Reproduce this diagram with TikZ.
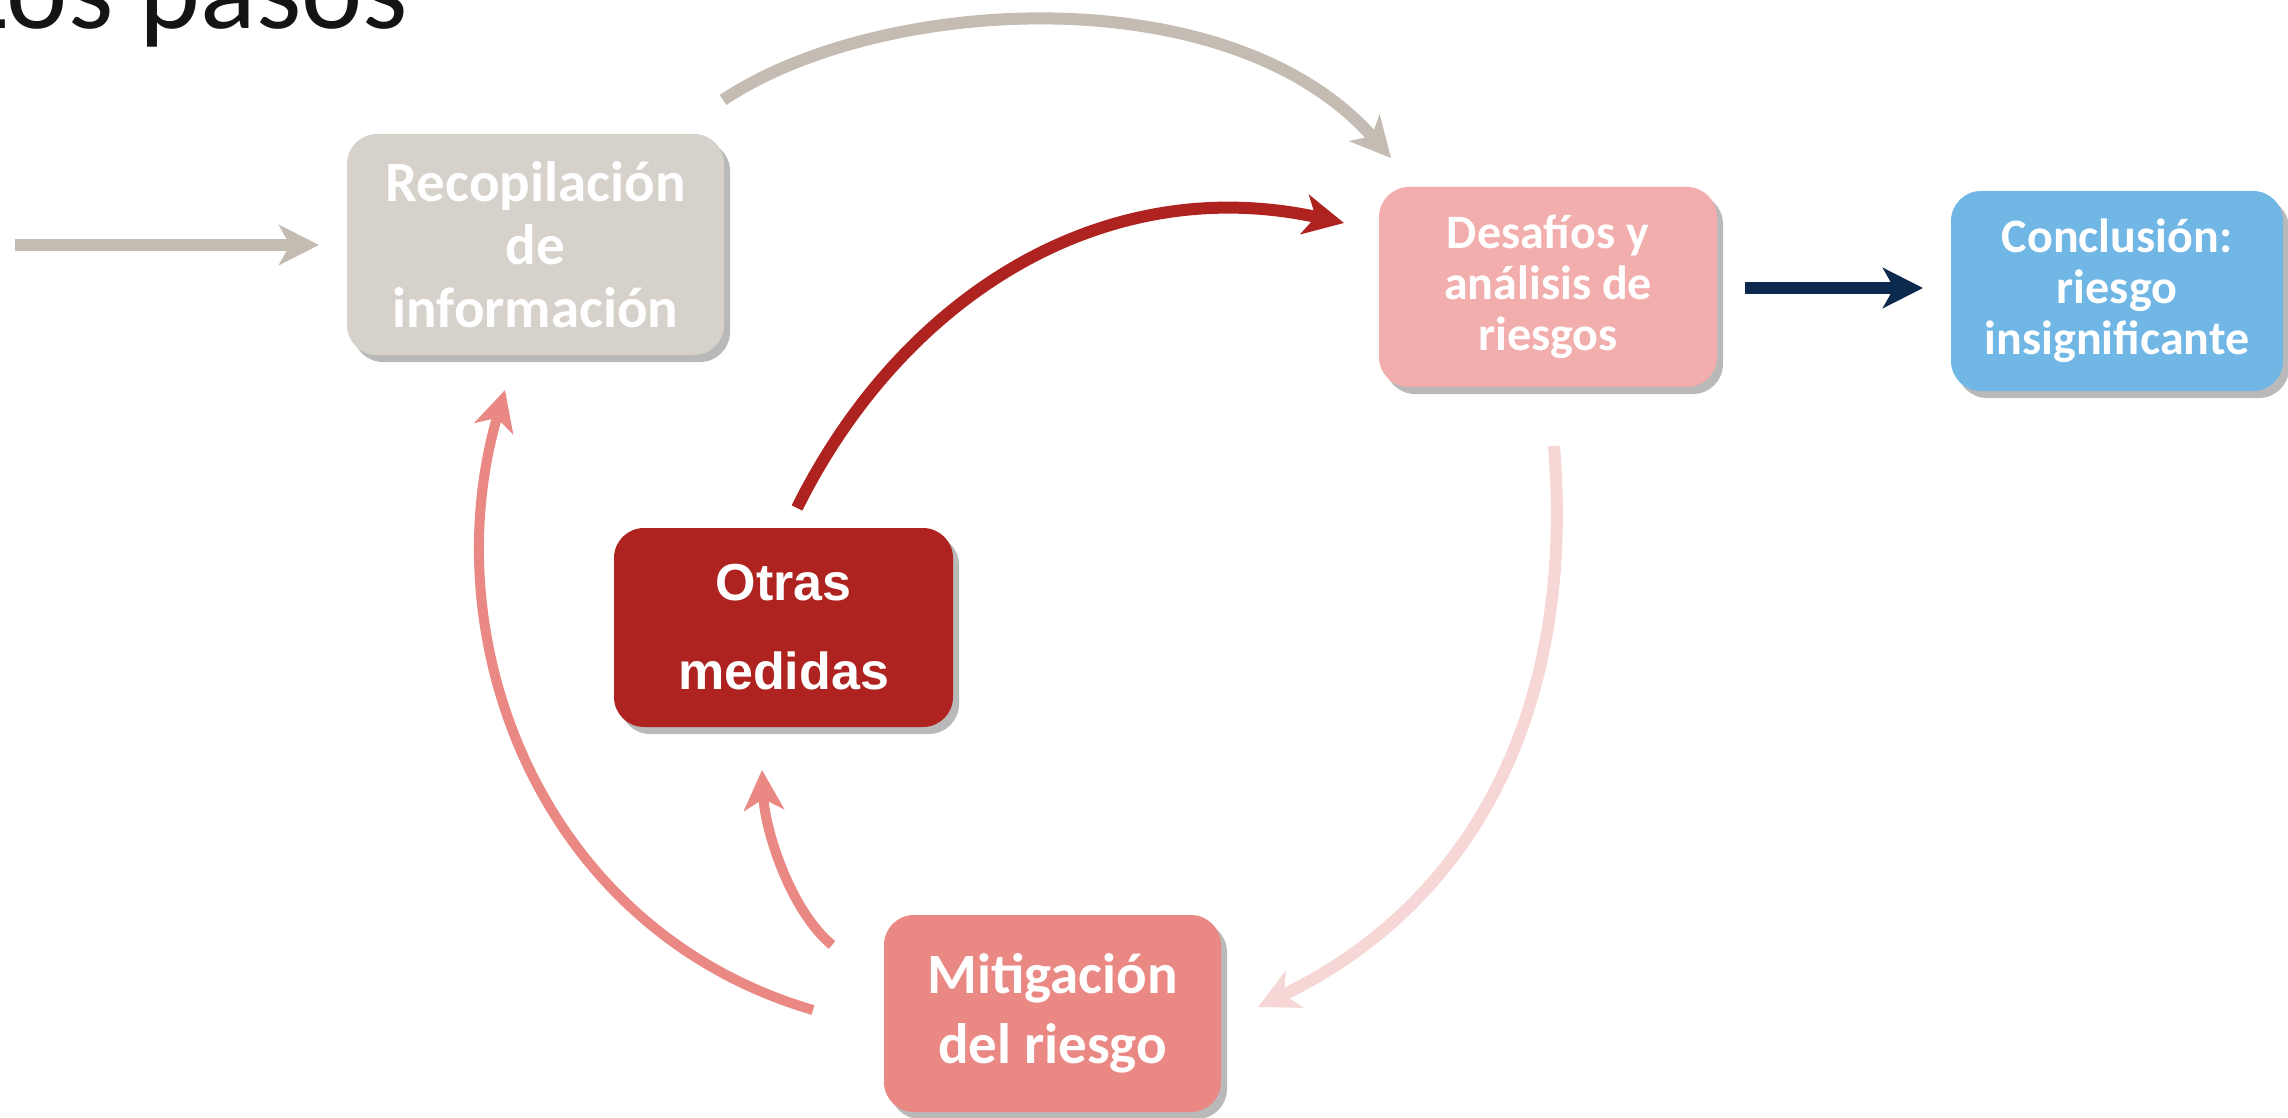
\documentclass[tikz,border=0pt]{standalone}
\usepackage{fontspec}
\setmainfont{Carlito}
\newfontfamily\arialfont{Liberation Sans}
\usetikzlibrary{arrows.meta,shadows}
\definecolor{cgrey}{HTML}{D6D1CB}
\definecolor{cgreyarrow}{HTML}{C4BBB2}
\definecolor{cpink}{HTML}{F2AEAC}
\definecolor{cblue}{HTML}{71B7E6}
\definecolor{cred}{HTML}{AE2320}
\definecolor{csalmon}{HTML}{EA8884}
\definecolor{clightpink}{HTML}{F7D7D6}
\definecolor{cnavy}{HTML}{0B2A4E}
\tikzset{
  box/.style={rounded corners=30pt, align=center, text=white, inner sep=0pt,
    drop shadow={shadow xshift=6pt, shadow yshift=-7pt, fill=black!50, opacity=0.55}},
  tipA/.style={-{Stealth[length=40pt, width=40pt, inset=11pt]}},
  conn/.style={line width=12pt, tipA},
  thinconn/.style={line width=10pt, tipA},
}
\begin{document}
\begin{tikzpicture}[x=1pt,y=-1pt]
\useasboundingbox (0,0) rectangle (2288,1118);
\fill[white] (0,0) rectangle (2288,1118);
% title
\node[anchor=base west, inner sep=0pt, font=\fontsize{116}{116}\selectfont, text=black!92] (title) at (-42,29) {Los pasos};
% boxes
\node[box, fill=cgrey, minimum width=377pt, minimum height=221pt,
  font=\bfseries\fontsize{57}{63}\selectfont] (rec) at (535.5,244.5) {Recopilación\\de\\información};
\node[box, fill=cpink, minimum width=338pt, minimum height=200pt,
  font=\bfseries\fontsize{48}{51}\selectfont] (des) at (1548,287) {Desafíos y\\análisis de\\riesgos};
\node[box, fill=cblue, minimum width=332pt, minimum height=200pt,
  font=\bfseries\fontsize{48}{51}\selectfont] (con) at (2117,291) {Conclusión:\\riesgo\\insignificante};
\node[box, fill=cred, minimum width=339pt, minimum height=199pt,
  font=\arialfont\bfseries\fontsize{52}{89}\selectfont] (otr) at (783.5,627.5) {Otras\\medidas};
\node[box, fill=csalmon, minimum width=337pt, minimum height=197pt,
  font=\bfseries\fontsize{57}{70}\selectfont] (mit) at (1052.5,1013.5) {Mitigación\\del riesgo};
% connector end points
\coordinate (inS) at (15,245);
\coordinate (inE) at (319,245);
\coordinate (t1) at (723,100);
\coordinate (t2) at (1391,158);
\coordinate (n1) at (1745,288);
\coordinate (n2) at (1923,288);
\coordinate (r1) at (797,508);
\coordinate (r2) at (1344,223);
\coordinate (p1) at (1554,446);
\coordinate (p2) at (1258,1007);
\coordinate (s1) at (813,1010);
\coordinate (s2) at (505,390);
\coordinate (m1) at (832,945);
\coordinate (m2) at (762,770);
% connectors
\draw[conn, cgreyarrow] (inS) -- (inE);
\draw[conn, cgreyarrow] (t1) .. controls (880,-5) and (1230,-25) .. (t2);
\draw[conn, cnavy] (n1) -- (n2);
\draw[conn, cred] (r1) .. controls (900,300) and (1100,170) .. (r2);
\draw[conn, clightpink] (p1) .. controls (1575,700) and (1480,900) .. (p2);
\draw[thinconn, csalmon] (s1) .. controls (540,930) and (432,640) .. (s2);
\draw[thinconn, csalmon] (m1) .. controls (790,910) and (765,830) .. (m2);
\end{tikzpicture}
\end{document}
